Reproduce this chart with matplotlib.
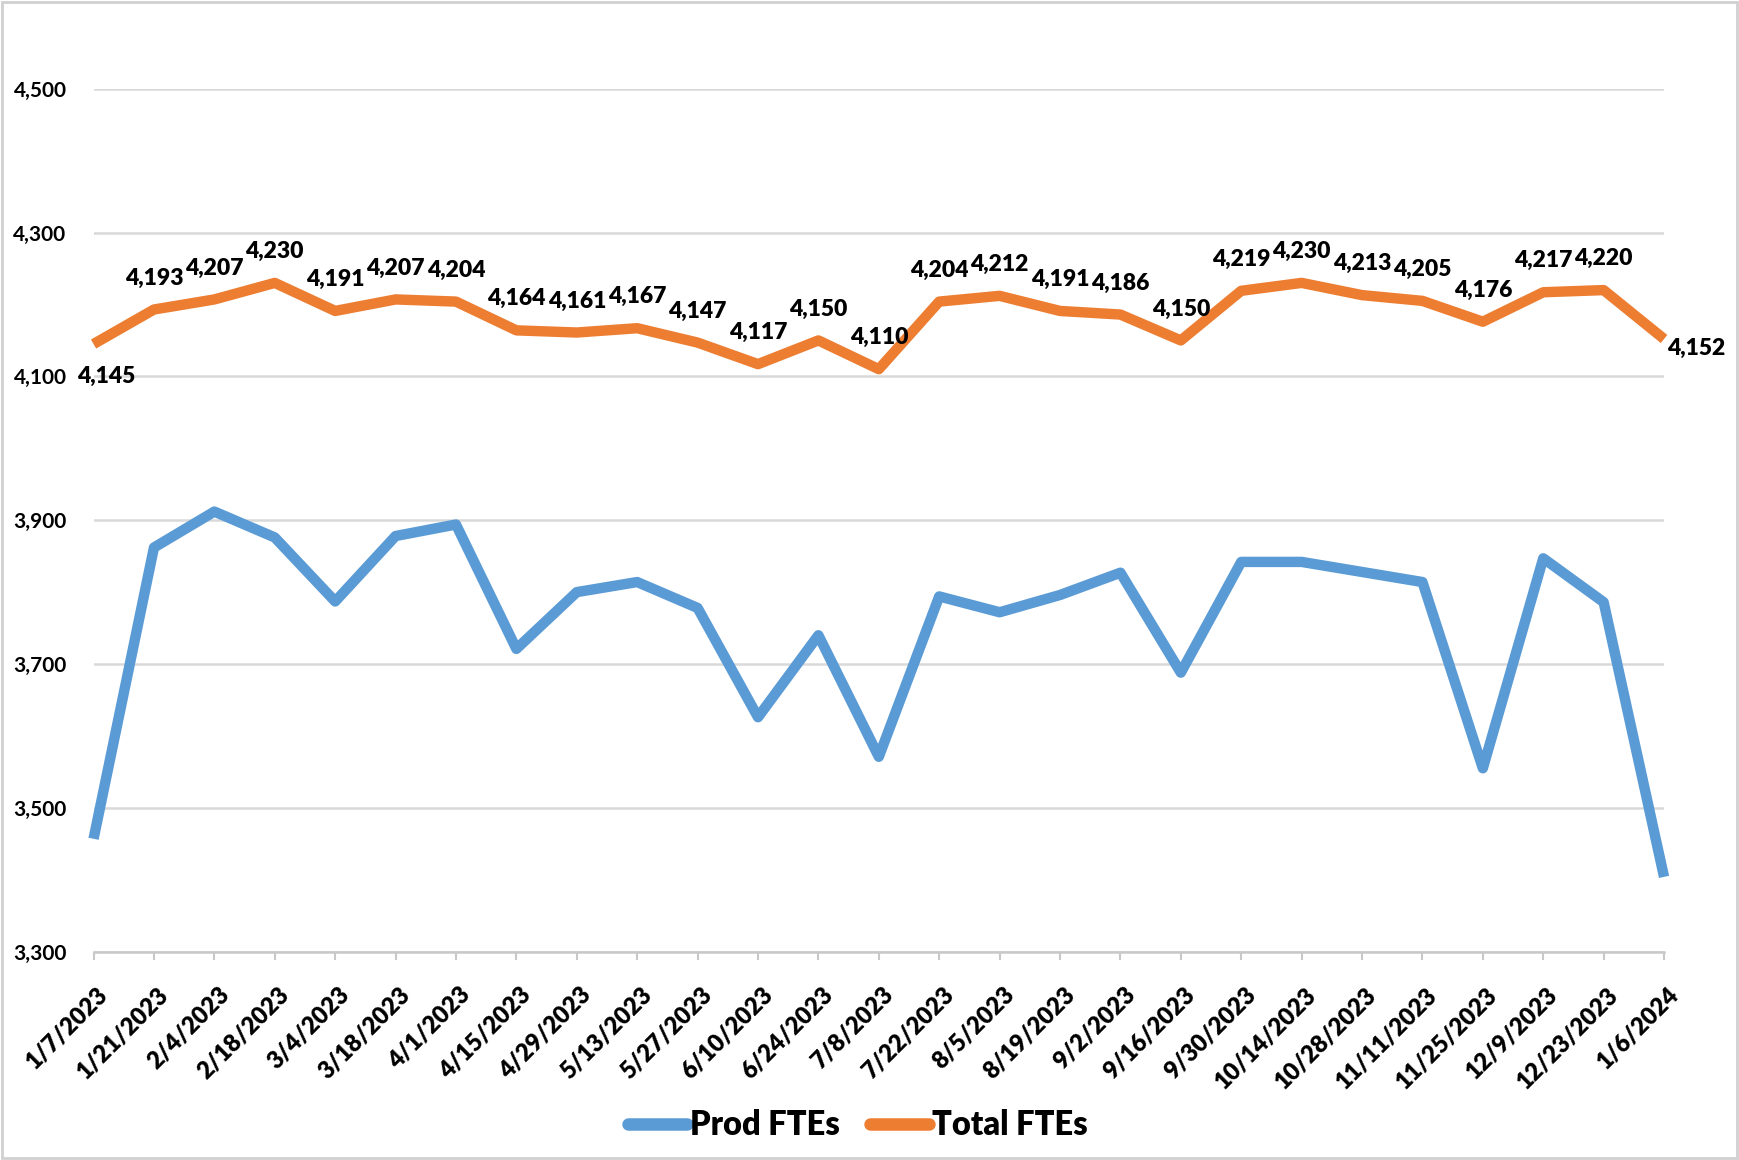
import matplotlib.pyplot as plt
import numpy as np
from matplotlib.lines import Line2D
from matplotlib.patches import Rectangle
from matplotlib.transforms import ScaledTranslation

plt.rcParams['font.family'] = ['Lato', 'DejaVu Sans']

dates = ["1/7/2023", "1/21/2023", "2/4/2023", "2/18/2023", "3/4/2023", "3/18/2023",
         "4/1/2023", "4/15/2023", "4/29/2023", "5/13/2023", "5/27/2023", "6/10/2023",
         "6/24/2023", "7/8/2023", "7/22/2023", "8/5/2023", "8/19/2023", "9/2/2023",
         "9/16/2023", "9/30/2023", "10/14/2023", "10/28/2023", "11/11/2023",
         "11/25/2023", "12/9/2023", "12/23/2023", "1/6/2024"]

prod_ftes = [3457, 3862, 3912, 3876, 3787, 3878, 3894, 3721, 3800, 3814, 3778, 3626,
             3740, 3571, 3794, 3772, 3796, 3827, 3688, 3842, 3842, 3828, 3814, 3555,
             3847, 3786, 3404]

total_ftes = [4145, 4193, 4207, 4230, 4191, 4207, 4204, 4164, 4161, 4167, 4147, 4117,
              4150, 4110, 4204, 4212, 4191, 4186, 4150, 4219, 4230, 4213, 4205, 4176,
              4217, 4220, 4152]

y_ticks = [3300, 3500, 3700, 3900, 4100, 4300, 4500]

blue = "#5B9BD5"
orange = "#ED7D31"
grid_col = "#D9D9D9"

fig = plt.figure(figsize=(17.39, 11.6), dpi=100)
ax = fig.add_axes([0.0538, 0.1796, 0.9031, 0.7439])

x = np.arange(len(dates))
ax.plot(x, prod_ftes, color=blue, lw=7.5, solid_joinstyle="round",
        solid_capstyle="butt", clip_on=False, zorder=3)
ax.plot(x, total_ftes, color=orange, lw=7.5, solid_joinstyle="round",
        solid_capstyle="butt", clip_on=False, zorder=3)

# data labels for the total line (Excel style, mostly above the point)
for i, v in enumerate(total_ftes):
    dx, dy, ha = 0, 18, "center"
    if i == 0:
        dx, dy, ha = -12, -28, "left"
    elif i == len(total_ftes) - 1:
        dx, dy, ha = 2, -11.5, "left"
    ax.annotate(f"{v:,}", (i, v), xytext=(dx, dy), textcoords="offset points",
                ha=ha, va="baseline", fontsize=16.5, fontweight="heavy",
                color="black", zorder=4)

ax.set_xlim(0, len(dates) - 1)
ax.set_ylim(3300, 4500)
ax.set_yticks(y_ticks)
ax.set_yticklabels([f"{t:,}" for t in y_ticks], fontsize=15, fontweight="bold")
ax.tick_params(axis="y", length=0, pad=19.5)
ax.yaxis.grid(True, color=grid_col, lw=1.8)
ax.set_axisbelow(True)

ax.set_xticks(x)
ax.set_xticklabels(dates, rotation=45, ha="right", va="top",
                   rotation_mode="anchor", fontsize=17, fontweight="heavy")
ax.tick_params(axis="x", length=5.8, width=1.5, color="#C8C8C8", pad=17)
shift = ScaledTranslation(3 / 100, 0, fig.dpi_scale_trans)
for lbl in ax.get_xticklabels():
    lbl.set_transform(lbl.get_transform() + shift)

for side in ["top", "right", "left"]:
    ax.spines[side].set_visible(False)
ax.spines["bottom"].set_color("#C8C8C8")
ax.spines["bottom"].set_linewidth(1.8)

handles = [Line2D([], [], color=blue, lw=9, solid_capstyle="round"),
           Line2D([], [], color=orange, lw=9, solid_capstyle="round")]
fig.legend(handles, ["Prod FTEs", "Total FTEs"], loc="center",
           bbox_to_anchor=(858 / 1739, 0.030), ncol=2, frameon=False,
           prop={"size": 23.5, "weight": "heavy"}, handlelength=1.8,
           handletextpad=0.1, columnspacing=0.9)

# light outer border of the chart
fig.patches.append(Rectangle((0.001, 0.002), 0.998, 0.996, transform=fig.transFigure,
                             fill=False, edgecolor="#D0D0D0", lw=2))

fig.savefig("out.png", dpi=100)
